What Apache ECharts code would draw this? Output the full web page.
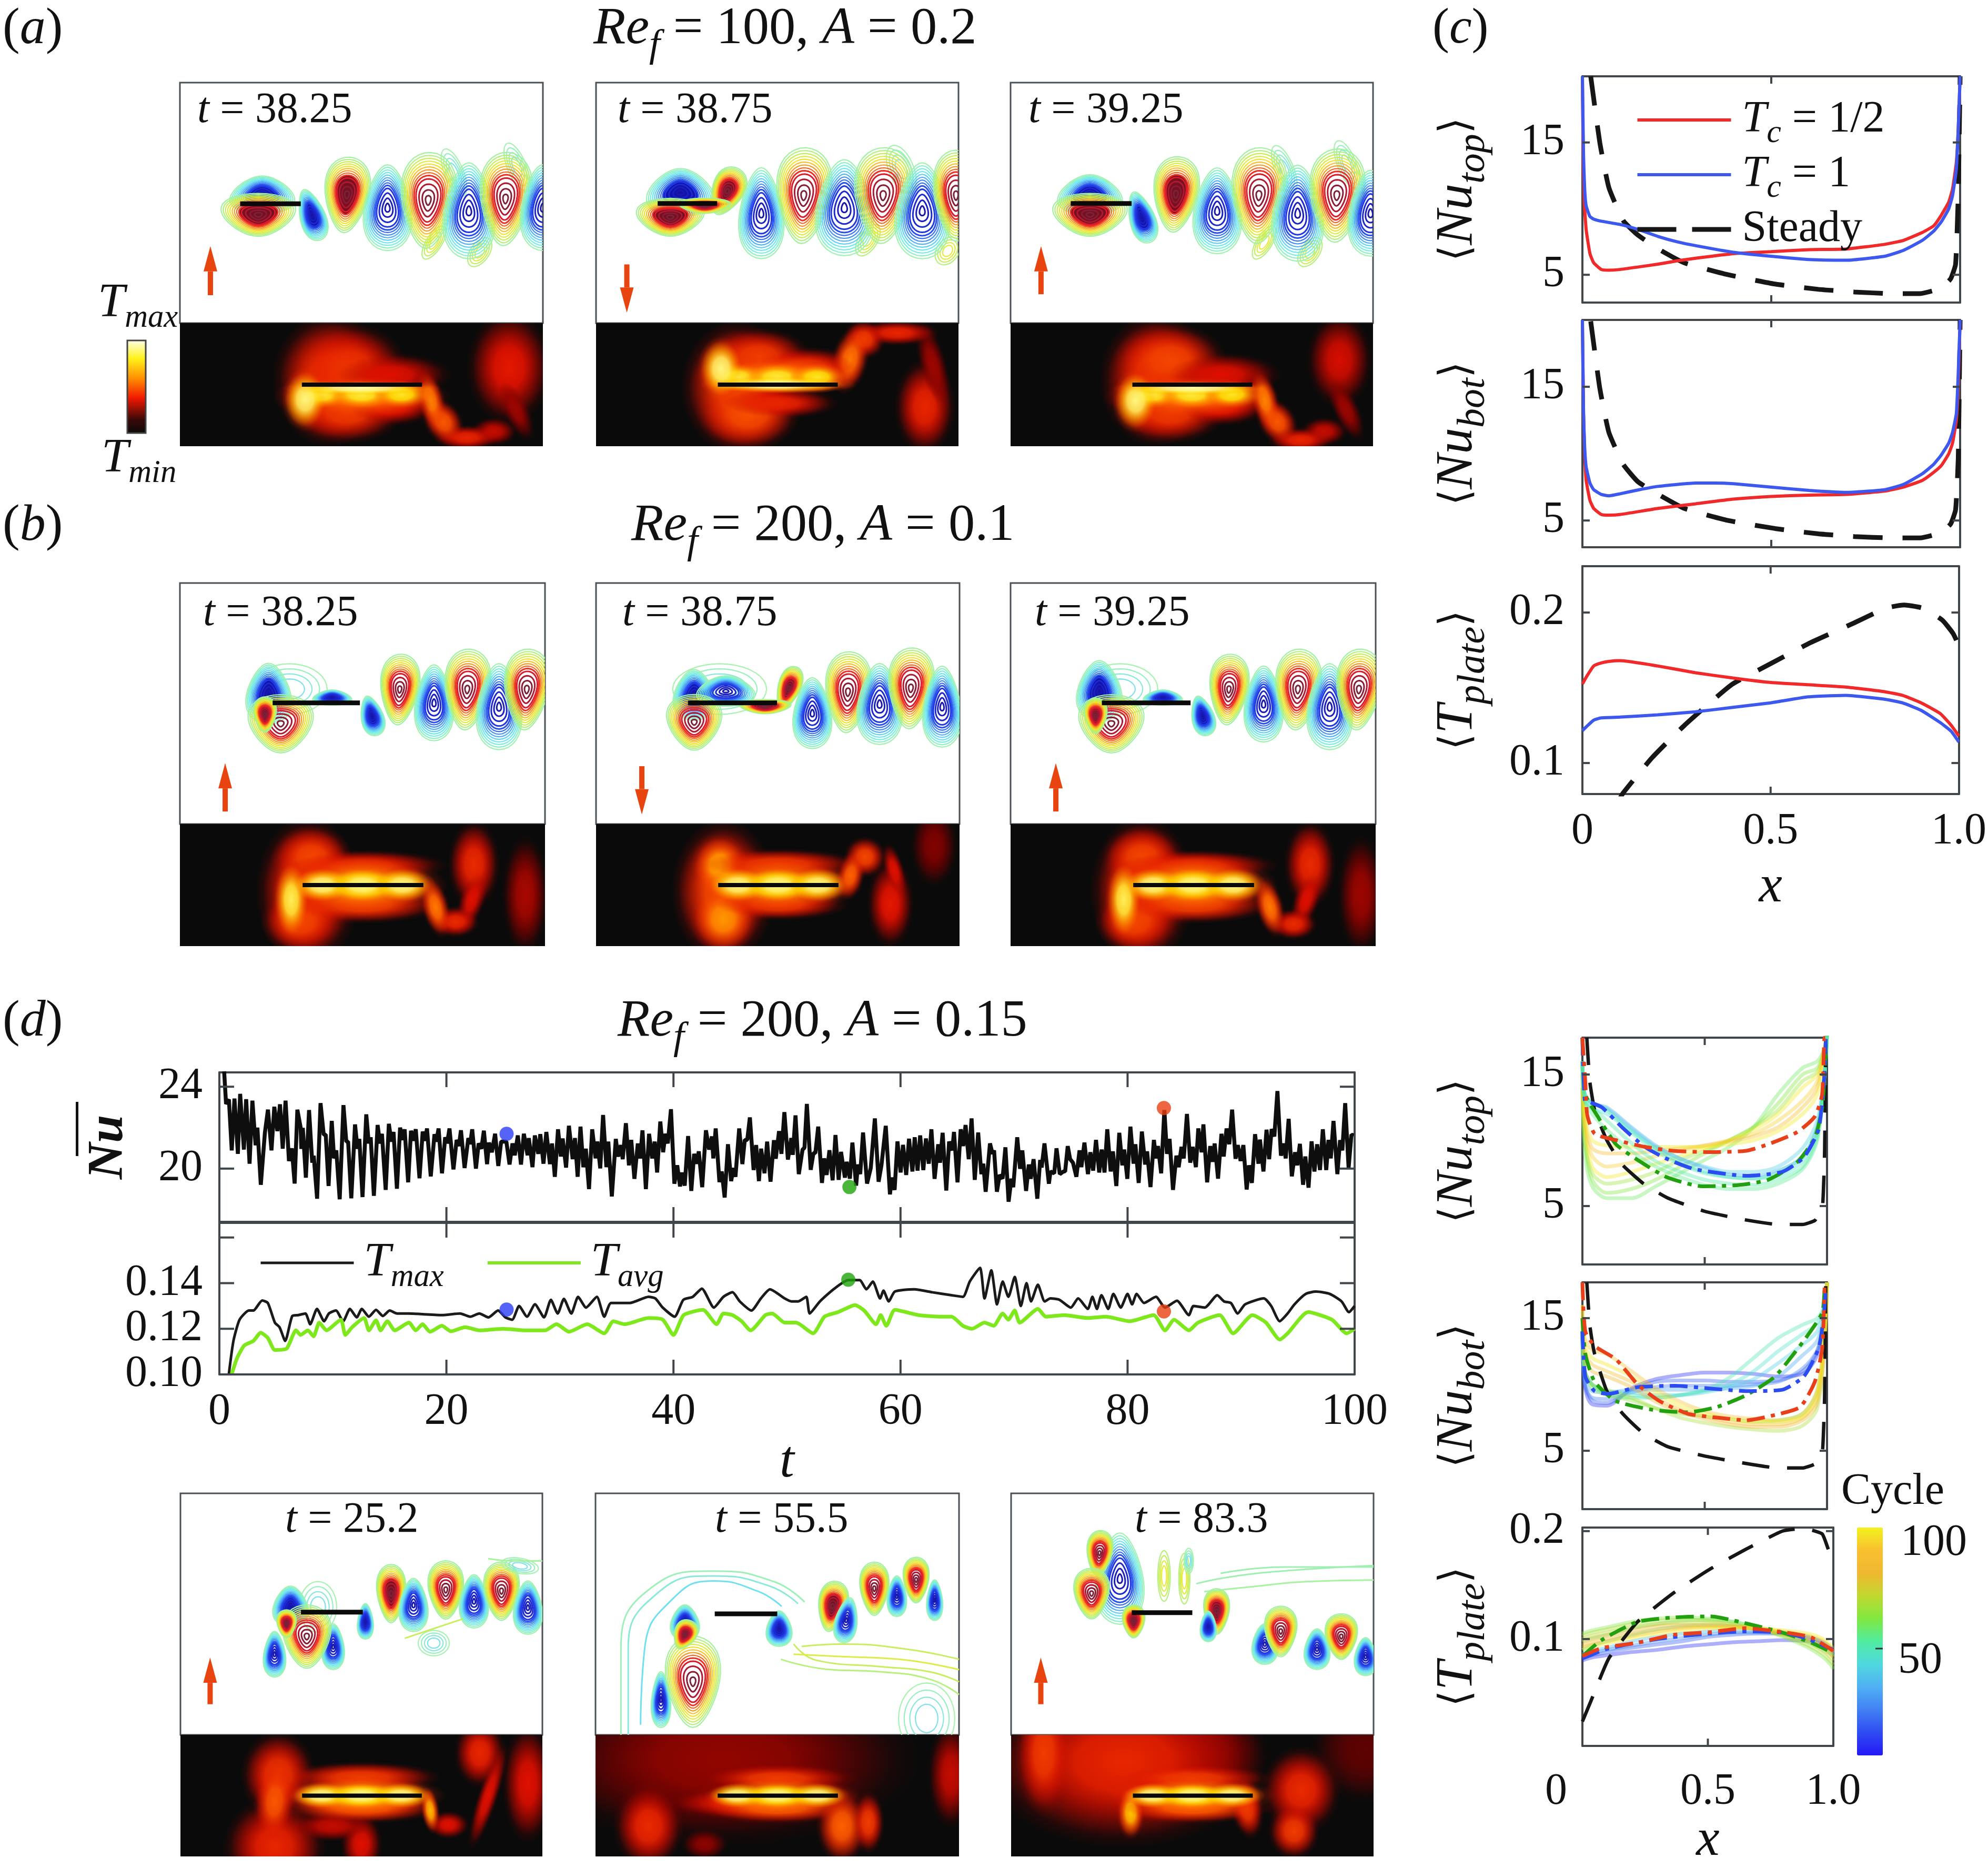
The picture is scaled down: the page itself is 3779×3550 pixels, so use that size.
<!DOCTYPE html>
<html><head><meta charset="utf-8"><style>html,body{margin:0;padding:0;background:#fff}#c{width:3779px;height:3550px}</style>
<script src="https://cdn.jsdelivr.net/npm/echarts@6/dist/echarts.min.js"></script></head><body><div id="c"></div>
<script>
/* ---------- time series of panel (d): [t, value] ---------- */
const nuPoints=[[.42,24.75],[.59,23.16],[.84,23.38],[1.09,20.89],[1.33,23.42],[1.63,20.72],[1.83,23.65],[2.16,20.93],[2.36,23.39],[2.66,20.24],[2.91,23.32],[3.19,21.14],[3.35,22],[3.65,19.21],[4.01,21.75],[4.28,22.88],[4.59,20.89],[4.84,23.02],[5.11,21.83],[5.34,23.14],[5.58,20.97],[5.83,23.32],[6.13,20.37],[6.38,20.99],[6.63,19.27],[6.87,22.88],[7.16,22],[7.22,20.96],[7.35,21.99],[7.62,19.56],[7.9,22.86],[8.18,20.29],[8.31,20.63],[8.61,18.53],[8.91,23.2],[9.19,21.66],[9.37,21.66],[9.62,19.15],[9.9,22.33],[10.1,20.5],[10.3,20.89],[10.6,18.5],[10.93,23.1],[11.18,21.32],[11.34,21.32],[11.62,18.55],[11.95,22.16],[12.17,20.97],[12.33,21.45],[12.61,18.61],[12.94,22.65],[13.16,21.23],[13.33,21.53],[13.61,18.67],[13.94,22.13],[14.15,21.23],[14.32,21.7],[14.65,18.96],[14.93,22.19],[15.15,21.32],[15.34,21.79],[15.64,19.02],[15.92,22],[16.14,21.4],[16.32,21.92],[16.63,19.33],[16.88,21.85],[17.08,21.36],[17.3,21.92],[17.63,19.53],[17.91,21.81],[18.12,21.36],[18.29,21.96],[18.62,19.62],[18.95,21.68],[19.11,21.32],[19.31,21.96],[19.61,19.77],[19.89,21.53],[20.06,21.23],[20.27,21.96],[20.62,19.96],[20.9,21.4],[21.1,21.1],[21.28,21.87],[21.6,20.03],[21.93,21.49],[22.09,21.19],[22.27,21.92],[22.6,20],[22.84,21.23],[23.08,20.97],[23.3,21.85],[23.58,20.22],[23.75,21.27],[24,20.8],[24.29,21.7],[24.57,20.13],[24.82,21.32],[25.28,21.32],[25.56,20.2],[25.82,21.23],[26.02,20.65],[26.29,21.62],[26.57,20.2],[26.82,21.7],[27.15,20.65],[27.26,21.49],[27.58,20.07],[27.79,21.62],[28.09,20.72],[28.27,21.68],[28.55,20.24],[28.8,21.79],[29.12,20.22],[29.3,21.23],[29.55,19.6],[29.83,21.92],[30.08,20.59],[30.24,21.47],[30.54,20.05],[30.79,22.09],[31.12,20.46],[31.32,21.49],[31.56,19.6],[31.81,22.05],[32.06,20.07],[32.28,20.97],[32.56,19],[32.84,21.92],[33.14,20.5],[33.3,21.32],[33.55,20.01],[33.8,22.62],[34.09,20.07],[34.26,21.32],[34.57,18.64],[34.92,21.45],[35.12,20.59],[35.37,21.15],[35.53,20.46],[35.81,22.22],[36.08,20.16],[36.28,21.4],[36.56,19.5],[36.86,21.23],[37.07,20.5],[37.27,21.87],[37.57,19],[37.85,21.7],[38.13,20.5],[38.35,21.32],[38.56,19.81],[38.84,22.3],[39.09,20.8],[39.29,21.7],[39.5,21.23],[39.78,22.9],[40.08,19.26],[40.33,20.16],[40.58,19.13],[40.74,19.81],[40.99,19.17],[41.29,21.59],[41.57,18.91],[41.82,20.72],[42.03,20.24],[42.23,20.84],[42.53,19.09],[42.86,21.87],[43.14,20.93],[43.39,21.57],[43.51,20.5],[43.72,21.96],[44.05,19.34],[44.25,19.86],[44.51,18.59],[44.8,21.19],[45.08,19.39],[45.29,20.03],[45.46,19.6],[45.79,21.96],[46.07,20.22],[46.28,21.4],[46.5,21.4],[46.73,22.5],[47.06,19.93],[47.28,21.15],[47.53,19.39],[47.72,20.97],[48.02,19.77],[48.25,21.32],[48.55,19.36],[48.85,21.39],[49.01,20.48],[49.3,21.83],[49.51,20.72],[49.77,22.76],[50.08,20.44],[50.38,21.49],[50.51,20.67],[50.75,22.6],[51.04,19.73],[51.37,20.93],[51.54,21.02],[51.75,23.16],[52.09,19.94],[52.33,20.76],[52.5,20.76],[52.75,22.05],[53.08,19.3],[53.28,20.5],[53.49,19.69],[53.74,20.9],[54.02,19.43],[54.27,21.64],[54.55,19.45],[54.76,20.82],[55.1,19.56],[55.26,20.33],[55.54,19.51],[55.76,21.27],[56.09,19.17],[56.25,20.2],[56.45,19.73],[56.7,21.76],[57.05,19.27],[57.38,20.03],[57.74,22.45],[58.07,19.36],[58.32,20.16],[58.7,22.09],[59.07,18.74],[59.23,19.56],[59.48,18.96],[59.73,21.33],[60.01,19.81],[60.22,21.16],[60.5,19.69],[60.75,21.46],[61.05,19.86],[61.25,21.53],[61.5,19.9],[61.73,21.62],[62.01,19.93],[62.24,21.47],[62.49,20.24],[62.72,21.92],[63,19.5],[63.32,21.19],[63.48,20.29],[63.71,21.75],[64.03,18.93],[64.28,21.32],[64.56,20.89],[64.71,21.79],[65.02,19.33],[65.3,21.92],[65.52,21.1],[65.73,22.13],[66.01,20.46],[66.26,22.45],[66.54,19.45],[66.84,21.76],[67.12,19.73],[67.29,20.24],[67.5,18.87],[67.88,21.23],[68.11,20.72],[68.24,20.89],[68.49,18.87],[68.74,19.69],[68.99,19.51],[69.24,21.04],[69.52,18.38],[69.77,19.51],[69.93,19.09],[70.28,21.53],[70.53,19.99],[70.73,20.89],[71.06,18.91],[71.3,20.2],[71.47,19.5],[71.72,20.46],[72.05,18.53],[72.3,20.42],[72.43,20.05],[72.68,21.23],[73.07,19.26],[73.21,19.86],[73.54,19.77],[73.74,20.99],[74.03,19.73],[74.36,19.86],[74.5,19.86],[74.73,21.1],[74.94,20.46],[75.19,20.29],[75.49,19.6],[75.77,20.89],[75.93,20.07],[76.2,21.27],[76.51,19.73],[76.72,20.8],[76.97,19.9],[77.22,21.4],[77.5,19.81],[77.72,20.93],[77.97,19.81],[78.21,21.92],[78.51,19.86],[78.71,20.84],[79.01,19.15],[79.27,21.75],[79.54,20.16],[79.7,20.93],[79.98,19.5],[80.25,22.05],[80.53,20.24],[80.69,21.19],[80.98,19.3],[81.26,21.81],[81.55,20.2],[81.72,20.84],[82.02,19.1],[82.32,21.4],[82.51,20.5],[82.68,21.1],[82.96,19.77],[83.24,22.86],[83.47,20.72],[83.7,21.45],[84,18.96],[84.3,20.63],[84.5,20.07],[84.75,21.06],[84.95,20.5],[85.23,22.67],[85.52,20.29],[85.74,21.06],[86.02,20.07],[86.23,21.96],[86.52,20.8],[86.68,22.16],[87.01,19.33],[87.28,21.1],[87.51,20.33],[87.67,21.23],[87.97,19.51],[88.27,21.7],[88.47,20.59],[88.72,21.96],[88.96,21.19],[89.21,22.88],[89.51,20.48],[89.71,21.15],[89.96,20.37],[90.2,21.15],[90.49,18.98],[90.7,20.16],[90.95,19.3],[91.23,21.68],[91.53,20.24],[91.66,21.42],[91.97,19.86],[92.24,21.9],[92.47,20.46],[92.69,21.93],[92.93,21.57],[93.2,23.79],[93.51,20.63],[93.73,21.23],[93.93,20.5],[94.19,22.43],[94.47,19.62],[94.75,20.8],[94.95,20.16],[95.18,21.21],[95.46,19.21],[95.66,20.59],[95.94,19.07],[96.21,21.33],[96.46,19.86],[96.7,21.19],[96.95,19.93],[97.2,21.92],[97.5,19.93],[97.7,21.4],[97.9,20.5],[98.14,22.33],[98.48,19.73],[98.72,21.39],[98.92,20.89],[99.17,23.2],[99.47,20.03],[99.72,21.66],[99.92,21.62]];
const tMaxPoints=[[.83,.1],[1.24,.1147],[1.78,.124],[2.6,.128],[3,.128],[3.77,.1324],[4.27,.1313],[4.89,.1227],[5.3,.1207],[5.8,.1147],[6.42,.1256],[6.96,.126],[7.58,.1267],[8,.122],[8.6,.1287],[9.23,.1233],[9.65,.1267],[10.27,.128],[10.9,.1233],[11.5,.1287],[12.1,.125],[12.55,.1287],[13.17,.1253],[13.8,.1283],[14.4,.1256],[15,.128],[15.65,.1267],[16.7,.1267],[17.9,.1264],[19.6,.126],[21.2,.1267],[22.1,.1253],[22.9,.1267],[23.7,.125],[24.55,.128],[25.2,.125],[25.8,.124],[26.4,.13],[27.1,.1253],[27.8,.1307],[28.6,.125],[29.2,.1327],[29.8,.1267],[30.35,.1331],[31,.1267],[31.6,.134],[32.3,.1293],[33.25,.134],[33.9,.1253],[34.5,.1313],[36.15,.1313],[37.8,.134],[38.4,.1333],[39.05,.1293],[40.1,.1253],[40.87,.1327],[41.7,.134],[42.5,.1376],[43.56,.1293],[44.4,.134],[45.2,.136],[45.84,.132],[46.87,.128],[47.7,.1333],[48.5,.1373],[49.8,.1333],[50.4,.132],[50.99,.132],[51.7,.134],[52,.1267],[52.9,.132],[54.1,.1373],[55.4,.1413],[56.4,.1413],[57,.1373],[57.56,.1407],[58.2,.1333],[58.5,.1367],[58.96,.132],[59.5,.1363],[61.2,.1373],[62.8,.136],[64.5,.1347],[65.5,.134],[66.1,.1407],[67,.1467],[67.4,.1333],[68,.1456],[68.5,.1307],[69,.1407],[69.5,.134],[70.06,.1427],[70.6,.13],[71.1,.14],[71.5,.132],[72.1,.1393],[72.7,.132],[73.2,.1333],[74,.1327],[75,.1293],[75.65,.1333],[76.5,.1287],[76.9,.134],[77.3,.1287],[77.7,.1347],[78.3,.1287],[78.75,.1353],[79.4,.1293],[80,.1353],[80.4,.1307],[80.8,.1353],[81.45,.1313],[82.5,.134],[83.3,.1293],[84.35,.1323],[85.4,.126],[85.8,.13],[86.8,.1293],[87.9,.1347],[88.5,.132],[89.1,.1313],[89.7,.1267],[90.35,.1307],[92,.1333],[92.65,.13],[93.4,.1233],[94.1,.1267],[94.7,.1307],[95.7,.1353],[96.6,.1363],[97.8,.1353],[98.85,.132],[99.5,.1273],[100,.13]];
const tAvgPoints=[[1.08,.1],[1.57,.1073],[2.2,.1127],[3,.1147],[3.64,.1183],[4.27,.116],[4.89,.1107],[5.92,.1113],[6.75,.1193],[7.16,.1173],[7.8,.1193],[8.3,.1167],[8.8,.1227],[9.44,.1193],[10.7,.124],[11.1,.1173],[11.7,.1207],[12.75,.1247],[13.17,.1193],[13.8,.1237],[14.2,.1193],[14.8,.1233],[15.45,.1193],[16.7,.1227],[17.3,.1193],[17.9,.122],[18.55,.1187],[19.6,.1213],[20.4,.1189],[21.65,.1207],[22.9,.1193],[25,.12],[27,.1193],[28.7,.1193],[29.7,.122],[30.8,.1187],[32.4,.122],[33.9,.118],[34.7,.1233],[35.7,.122],[37.8,.1247],[39.05,.124],[40,.1173],[40.9,.126],[42.6,.1283],[43.8,.122],[44.4,.1267],[45.2,.126],[46,.1233],[46.8,.1193],[48.1,.126],[48.7,.1267],[49.8,.1227],[50.8,.1227],[52.3,.118],[53.3,.1253],[54.5,.1273],[56,.1304],[56.8,.128],[57.85,.122],[58.25,.126],[58.75,.1213],[59.5,.1283],[61.6,.126],[63.6,.1253],[64.5,.1253],[65.5,.1213],[66.3,.12],[67.4,.1227],[68.2,.1213],[69,.1267],[69.5,.124],[70.06,.128],[70.5,.1227],[72.1,.1287],[72.8,.1253],[74.4,.126],[76.5,.1247],[78.1,.1253],[80.2,.1233],[82.3,.126],[83.3,.1193],[84.1,.124],[85.4,.1193],[86.2,.1227],[88.1,.126],[89.3,.118],[91,.126],[92.2,.1227],[93.4,.1153],[94.1,.118],[95.9,.1273],[98,.124],[99.3,.118],[100,.12]];
const nuMarkers=[[25.3,21.7,'#2a3cf5'],[55.5,19.1,'#1fa30a'],[83.2,22.96,'#e8400f']];
const tempMarkers=[[25.3,.1284,'#2a3cf5'],[55.4,.1415,'#1fa30a'],[83.2,.1276,'#e8400f']];

/* ---------- panel (c) ---------- */
const cTopRedX=[0,.002,.005,.01,.02,.03,.05,.07,.1,.15,.2,.25,.3,.4,.5,.6,.7,.8,.85,.9,.93,.95,.97,.98,.99,.995,1];
const cTopRedY=[20,14,10.5,8.4,6.6,5.9,5.4,5.35,5.4,5.6,5.8,6.05,6.25,6.6,6.75,6.9,6.95,7.3,7.6,8.2,8.7,9.5,10.5,11.5,13.5,16,20];
const cTopBlueX=[0,.003,.006,.01,.02,.03,.05,.1,.15,.2,.25,.3,.4,.5,.6,.7,.8,.85,.9,.93,.95,.97,.98,.99,.995,1];
const cTopBlueY=[20,14,11.5,10.2,9.4,9.2,9.05,8.8,8.4,7.9,7.5,7.2,6.7,6.4,6.15,6.1,6.4,6.85,7.6,8.3,9,10,11,13,16,20];
const cTopSteadyX=[.022,.046,.07,.108,.147,.204,.27,.386,.51,.625,.72,.817,.894,.95,.975,.988,.995,1];
const cTopSteadyY=[20,15,11.6,9.1,8,6.9,5.9,5,4.3,3.9,3.7,3.58,3.58,4,4.7,5.8,11,20];
const cBotRedX=[0,.003,.006,.01,.02,.03,.05,.07,.1,.2,.3,.4,.5,.6,.7,.8,.85,.9,.93,.95,.97,.98,.99,.995,1];
const cBotRedY=[20,13,10,8,6.5,5.9,5.45,5.4,5.45,5.9,6.25,6.6,6.8,6.9,6.95,7.2,7.5,8,8.6,9.1,10,10.8,12.5,15,20];
const cBotBlueX=[0,.003,.006,.01,.02,.03,.05,.07,.1,.15,.2,.3,.35,.4,.5,.6,.7,.8,.85,.9,.93,.95,.97,.98,.99,.995,1];
const cBotBlueY=[20,13,10.5,9,7.8,7.3,6.95,6.85,7,7.3,7.55,7.8,7.8,7.75,7.5,7.25,7.1,7.3,7.7,8.5,9.2,9.9,10.8,11.6,13,16,20];
const cBotSteadyX=[.022,.046,.07,.108,.147,.204,.27,.386,.51,.625,.72,.817,.894,.95,.975,.988,.995,1];
const cBotSteadyY=[19.9,14.9,11.6,9.2,7.9,6.9,5.9,5,4.4,4,3.8,3.7,3.7,4.1,4.75,5.8,9.6,20];
const cPlateRedX=[0,.01,.03,.05,.07,.1,.2,.3,.4,.5,.6,.7,.8,.85,.9,.95,.98,1];
const cPlateRedY=[.1525,.157,.1645,.1665,.1675,.168,.1645,.16,.1565,.1535,.152,.1505,.1475,.145,.14,.133,.125,.118];
const cPlateBlueX=[0,.01,.03,.05,.1,.2,.3,.4,.5,.6,.7,.8,.85,.9,.95,.98,1];
const cPlateBlueY=[.1215,.124,.1285,.13,.1305,.132,.134,.137,.14,.144,.145,.1425,.14,.135,.127,.121,.114];
const cPlateSteadyX=[.09,.108,.185,.271,.396,.5,.606,.721,.807,.855,.903,.956,.985,1];
const cPlateSteadyY=[.072,.08,.1035,.125,.152,.166,.18,.193,.203,.205,.203,.195,.186,.178];

/* ---------- panel (d), right column ---------- */
const cycleXs=[0,.01,.04,.1,.2,.3,.4,.5,.6,.7,.8,.9,.96,.99,1];
const topCycles=[[60,14,9,6.5,5.6,5.6,6.5,7.5,8.5,9.5,11,13.5,15.5,16,17,18],[64,14,10,7,6,6.3,7,8,9,10,11,12.8,15,15.5,17,18],[68,14,10,7.5,6.7,7,7.6,8.5,9.2,10,11,12.3,14.5,15.2,17,18],[104,15,11,8,7.2,7.6,8.2,8.8,9.4,10,10.8,12,14,15,17,18],[98,15,11,8.8,8,8.3,8.8,9.2,9.6,10,10.5,11.5,13,14.5,17,18],[90,15,11.5,9.4,9,9,9.2,9.4,9.6,9.9,10.3,11,12.5,14,17,18],[104,16,12,10,9.6,9.5,9.5,9.5,9.5,9.7,10,10.7,12,13.5,17,18],[30,16,13.5,12.8,12.5,11,9.6,8.6,7.9,7.4,7.3,7.7,8.7,11,15,18],[40,16,13.5,12.8,12.4,10.9,9.5,8.6,8,7.6,7.6,8,9.4,11.5,15,18],[45,16,13,12.4,12,10.7,9.4,8.3,7.6,7.2,7.1,7.3,8.4,10.5,15,18],[50,16,13.5,12.8,12.3,10.6,9.2,8.2,7.5,7.2,7.1,7.6,8.8,11,15,18],[52,16,13,12.5,11.5,9.8,8.4,7.6,7,6.7,6.6,7,8,10.2,15,18],[55,16,13,12,10.8,9.2,8,7.2,6.6,6.3,6.3,6.7,7.8,10,15,18]];
const botCycles=[[4,14,9.8,8.5,8.4,9.7,10.4,10.7,10.9,10.9,10.8,10.6,10.8,12.2,15,17.7],[14,14,10,8.8,8.6,9.6,10.2,10.3,10.3,10.2,10.2,10.3,11,12.5,15,17.7],[20,14,10,9,8.9,9.4,9.8,9.9,9.9,9.9,10,10.2,11.2,12.6,15,17.7],[30,14,10.5,9.5,9.4,9.6,9.6,9.6,9.6,9.7,9.9,10.6,12.2,13.3,15.5,17.7],[40,14,11,10,9.5,9.4,9.2,9.2,9.4,9.8,10.4,11.6,13,14,16,17.7],[46,14,11,10,9.4,9.2,9,9.2,9.5,10,11,12.5,13.8,14.6,16,17.7],[50,14,11,10,9.3,9,9,9.2,9.6,10.5,12,13.5,14.5,15,16,17.7],[64,14,11,9.8,9.2,8.8,8.2,7.8,7.6,7.4,7.2,7.3,7.8,9.5,14,17.7],[70,14,11,10,9.6,9,8.2,7.5,7.1,6.8,6.6,6.5,6.9,8.2,13,17.7],[85,15,12,11,10.6,9.8,8.7,7.9,7.4,7,6.8,6.8,7.3,8.6,13,17.7],[90,15,12.5,11.5,11,10.2,9,8.1,7.6,7.2,7,7,7.5,9,13.5,17.7],[95,16,13.5,12.6,12.3,11,9.7,8.7,8,7.6,7.4,7.3,7.8,9.6,14,17.7],[104,16,13,12,11.5,10.6,9.4,8.4,7.8,7.4,7.2,7.2,7.6,9.2,14,17.7]];
const plateCycles=[[4,.08,.081,.083,.085,.088,.09,.093,.095,.097,.098,.099,.098,.095,.09,.086],[14,.082,.083,.085,.088,.092,.095,.098,.102,.104,.105,.105,.102,.097,.092,.089],[24,.084,.085,.087,.09,.094,.098,.101,.104,.106,.106,.105,.101,.096,.091,.088],[34,.086,.087,.089,.092,.098,.102,.105,.107,.108,.107,.105,.1,.094,.089,.086],[50,.09,.091,.094,.098,.104,.109,.112,.113,.112,.109,.105,.098,.092,.087,.085],[58,.098,.099,.101,.104,.11,.114,.117,.118,.116,.111,.105,.097,.09,.086,.084],[64,.105,.106,.108,.111,.116,.119,.12,.119,.116,.11,.102,.092,.083,.076,.072],[70,.103,.104,.106,.109,.114,.117,.118,.117,.114,.109,.103,.094,.086,.079,.076],[76,.1,.101,.103,.106,.111,.114,.115,.115,.113,.109,.104,.097,.089,.083,.08],[85,.097,.098,.1,.103,.108,.112,.113,.113,.112,.109,.105,.099,.092,.086,.083],[90,.094,.095,.097,.1,.105,.109,.111,.112,.111,.109,.106,.101,.095,.089,.086],[96,.092,.093,.095,.098,.103,.107,.11,.111,.111,.11,.107,.103,.098,.092,.088],[104,.09,.091,.093,.096,.101,.105,.108,.11,.11,.11,.108,.105,.1,.094,.09]];
const dTopRedX=[0,.012,.02,.05,.14,.255,.37,.52,.67,.76,.876,.95,.98,.99,1];
const dTopRedY=[17.8,14.4,11.9,10.5,10,9.5,9.2,9.1,9.2,9.7,10.6,11.8,13.5,17.8,17.8];
const dTopBlueX=[0,.01,.03,.08,.167,.255,.344,.46,.67,.817,.905,.965,.987,.995];
const dTopBlueY=[17.8,13,12.9,12.5,10.9,9.5,8.6,7.8,7.3,7.6,8.7,10.8,14.4,17.7];
const dTopGreenX=[0,.012,.063,.137,.226,.344,.49,.64,.76,.876,.95,.982,.995];
const dTopGreenY=[17.8,13.5,11.8,9.7,8.5,7.2,6.5,6.6,7,8.3,10.2,12.7,17.3];
const dBotRedX=[0,.012,.05,.137,.226,.315,.43,.55,.67,.787,.89,.95,.98,.99];
const dBotRedY=[17.7,14,12.9,11.9,10,8.75,7.8,7.5,7.3,7.7,8.3,10.2,12.7,17.3];
const dBotBlueX=[0,.012,.05,.108,.226,.374,.52,.67,.817,.905,.965,.987,.995];
const dBotBlueY=[14,10.6,9.5,9.3,9.8,9.9,9.7,9.5,9.6,10.6,12.7,15.2,17.3];
const dBotGreenX=[0,.012,.05,.137,.284,.43,.55,.67,.787,.905,.98,.99];
const dBotGreenY=[15,12.3,10.2,8.75,8.1,7.9,8.3,9.2,10.6,13.3,15.4,17.3];
const dPlateRedX=[0,.076,.22,.365,.51,.65,.797,.912,1];
const dPlateRedY=[.0842,.0916,.0966,.104,.1064,.11,.1064,.1015,.089];
const dPlateBlueX=[0,.1,.3,.5,.65,.8,.9,1];
const dPlateBlueY=[.082,.091,.1,.105,.107,.106,.1,.09];
const dPlateGreenX=[0,.076,.22,.365,.51,.625,.797,.912,1];
const dPlateGreenY=[.084,.099,.116,.12,.121,.116,.106,.0966,.087];
const dPlateSteadyX=[0,.033,.105,.22,.365,.51,.65,.797,.883,.955,.977,1];
const dPlateSteadyY=[.0236,.042,.082,.116,.143,.165,.183,.2,.2025,.1975,.185,.17];
const dSteadyX=[.018,.03,.05,.1,.16,.25,.35,.5,.65,.8,.9,.95,.97,.982,.99,.995];
const dTopSteadyY=[17.8,14.5,12.3,10,8.2,6.7,5.6,4.6,4,3.6,3.6,3.9,4.5,5,9,17.8];
const dBotSteadyY=[17.7,14.5,12.3,9.5,7.9,6.3,5.3,4.6,4.1,3.7,3.7,4,4.6,5.1,9,17.7];
const cycleTicks=[50,100];
const cycleColors=['#2418f5','#2f4cf2','#4080f4','#50b0f4','#50d8e0','#50eca0','#80e840','#c0d830','#f0b830','#f8c030','#f2f21e'];

/* ---------- tick values ---------- */
const nuTicks=[20,24], tempTicks=[.1,.12,.14,.16], timeTicks=[0,20,40,60,80,100];
const nuSideTicks=[5,15], plateTicksC=[.1,.2], plateTicksD=[0,.1,.2], xTicks=[0,.5,1];

/* ---------- flow snapshots: vortices [x, y, rx, ry, tilt, kind, dense]  kind 1 red, -1 blue, 0 mint, 2 lime ---------- */
const vortA1=[[.755,.374,.03,.1,-22,0,0],[.70,.665,.025,.075,32,2,0],[.928,.35,.03,.1,-22,0,0],[.826,.705,.03,.065,35,2,0],[.227,.467,.10,.075,0,-1,1],[.216,.55,.115,.085,0,1,1],[.364,.55,.04,.105,-18,-1,1],[.46,.467,.07,.15,5,1,1],[.572,.52,.075,.17,0,-1,0],[.684,.49,.085,.19,3,1,0],[.796,.533,.08,.19,0,-1,0],[.897,.484,.08,.185,3,1,0],[1.0,.52,.07,.17,0,-1,0]];
const vortA2=[[.842,.36,.04,.1,-22,0,0],[.75,.655,.03,.07,32,2,0],[.97,.7,.035,.06,35,2,0],[.233,.457,.105,.095,0,-1,1],[.205,.56,.105,.075,0,1,1],[.362,.452,.05,.1,25,1,1],[.30,.512,.08,.03,0,1,1],[.456,.543,.07,.18,0,-1,0],[.573,.47,.085,.19,3,1,0],[.685,.52,.09,.19,0,-1,0],[.792,.47,.09,.19,3,1,0],[.90,.533,.085,.19,0,-1,0],[.993,.47,.07,.18,0,1,0]];
const vortA3=[[.755,.36,.03,.1,-22,0,0],[.70,.665,.025,.075,32,2,0],[.928,.34,.03,.1,-22,0,0],[.826,.705,.03,.065,35,2,0],[.219,.467,.10,.08,0,-1,1],[.219,.55,.115,.085,0,1,1],[.362,.56,.04,.105,-18,-1,1],[.456,.465,.07,.15,5,1,1],[.57,.533,.075,.17,0,-1,0],[.685,.47,.085,.19,3,1,0],[.792,.543,.08,.19,0,-1,0],[.90,.47,.085,.185,3,1,0],[.993,.543,.07,.17,0,-1,0]];
const vortB1=[[.30,.44,.12,.1,0,0,0],[.243,.459,.07,.12,0,-1,1],[.276,.584,.1,.115,0,1,0],[.233,.546,.035,.07,0,1,1],[.417,.475,.06,.03,0,-1,1],[.526,.551,.035,.08,-15,-1,1],[.602,.442,.06,.14,4,1,0],[.696,.497,.06,.15,0,-1,0],[.787,.442,.07,.16,4,1,0],[.874,.513,.07,.17,0,-1,0],[.95,.442,.07,.16,4,1,0]];
const vortB2=[[.34,.44,.15,.1,0,0,0],[.27,.464,.065,.1,0,-1,1],[.357,.448,.09,.06,0,-1,0],[.27,.578,.085,.11,0,1,0],[.53,.437,.035,.09,20,1,1],[.465,.513,.08,.028,0,1,1],[.595,.54,.06,.14,0,-1,0],[.693,.453,.07,.16,3,1,0],[.78,.502,.07,.16,0,-1,0],[.866,.437,.07,.16,3,1,0],[.952,.513,.06,.16,0,-1,0]];
const vortB3=[[.30,.44,.12,.1,0,0,0],[.243,.448,.07,.12,0,-1,1],[.276,.584,.1,.115,0,1,0],[.233,.551,.035,.07,0,1,1],[.417,.475,.06,.03,0,-1,1],[.526,.551,.035,.08,-15,-1,1],[.598,.442,.06,.14,4,1,0],[.693,.502,.06,.15,0,-1,0],[.787,.442,.07,.16,4,1,0],[.874,.513,.07,.17,0,-1,0],[.954,.442,.07,.16,4,1,0]];
const vortD1=[[.38,.47,.06,.1,0,0,0],[.26,.666,.035,.09,0,-1,0],[.422,.635,.035,.09,0,-1,0],[.304,.468,.055,.08,0,-1,1],[.349,.593,.075,.125,0,1,0],[.293,.54,.03,.055,0,1,1],[.511,.53,.025,.07,0,-1,1],[.582,.415,.045,.115,0,1,1],[.644,.462,.045,.105,0,-1,0],[.733,.4,.055,.115,0,1,0],[.811,.447,.045,.105,0,-1,0],[.887,.405,.055,.115,0,1,0],[.96,.473,.045,.105,0,-1,0],[.938,.3,.06,.03,10,0,0],[.7,.62,.05,.05,0,0,0]];
const vortD2=[[.911,.932,.09,.14,0,0,0],[.18,.854,.03,.11,0,-1,0],[.268,.78,.085,.18,0,1,0],[.246,.535,.045,.07,0,-1,1],[.246,.585,.035,.06,25,1,1],[.505,.56,.04,.07,0,-1,1],[.652,.468,.045,.1,10,1,1],[.69,.525,.035,.09,10,-1,0],[.767,.395,.045,.105,0,1,0],[.829,.426,.03,.08,0,-1,0],[.882,.359,.04,.09,0,1,0],[.933,.442,.025,.08,0,-1,0]];
const vortD3=[[.422,.342,.02,.1,0,2,0],[.478,.353,.018,.1,0,2,0],[.49,.28,.015,.05,0,0,0],[.3,.353,.075,.18,0,-1,0],[.244,.248,.04,.09,5,1,0],[.222,.415,.055,.1,0,1,0],[.338,.53,.035,.065,0,1,1],[.567,.489,.04,.09,0,1,1],[.544,.551,.025,.06,0,-1,1],[.7,.624,.04,.08,0,-1,0],[.744,.572,.05,.1,0,1,0],[.844,.645,.04,.08,0,-1,0],[.911,.593,.05,.09,0,1,0],[.978,.676,.035,.075,0,-1,0]];
const streaksD2=[['#8ce8d8',[[.09,1],[.09,.645],[.169,.415],[.324,.342],[.479,.384],[.557,.457]]],['#9ff0b8',[[.07,1],[.07,.645],[.15,.395],[.324,.322],[.49,.365],[.575,.45]]],['#70e0f0',[[.124,.958],[.135,.645],[.213,.436],[.324,.363],[.446,.405],[.512,.468]]],['#c8ee60',[[.545,.624],[.61,.692],[.787,.718],[.92,.739],[1,.78]]],['#c8ee60',[[.567,.634],[.678,.624],[.855,.645],[1,.687]]],['#dcec48',[[.545,.666],[.678,.676],[.834,.687],[1,.73]]],['#b8f080',[[.51,.687],[.634,.728],[.787,.739],[.92,.77],[1,.833]]]];
const streaksD3=[['#9ff0b0',[[.511,.374],[.622,.342],[.8,.316],[1,.299]]],['#a8f2a0',[[.533,.407],[.667,.386],[.822,.365],[1,.359]]],['#9ff0b0',[[.578,.331],[.756,.305],[1,.305]]]];
const streaksD1=[['#a8f2a0',[[.85,.27],[.93,.28],[1,.28]]],['#c8ee60',[[.62,.6],[.7,.56],[.78,.52]]]];

/* ---------- flow snapshots: temperature blobs [x, y, rx, ry, tilt, heat] ---------- */
const heatA1=[[.907,.36,.09,.36,0,.52],[.925,.7,.028,.22,-25,.38],[.865,.88,.05,.09,0,.45],[.79,.93,.07,.08,0,.55],[.725,.8,.04,.16,-35,.66],[.69,.62,.03,.2,-15,.74],[.41,.46,.12,.42,0,.6],[.47,.36,.12,.28,0,.58],[.58,.42,.13,.14,0,.5],[.46,.72,.12,.2,0,.6],[.58,.68,.1,.12,0,.52],[.5,.6,.19,.15,0,.72],[.39,.58,.07,.1,0,.9],[.5,.58,.08,.1,0,.9],[.61,.58,.07,.1,0,.88],[.345,.62,.05,.2,0,.95],[.5,.53,.17,.05,0,.98]];
const heatA2=[[.907,.68,.065,.3,0,.55],[.93,.35,.03,.3,-14,.38],[.83,.08,.09,.08,0,.55],[.74,.13,.045,.12,30,.6],[.70,.3,.04,.22,15,.72],[.39,.52,.12,.42,0,.64],[.42,.74,.11,.23,0,.64],[.45,.27,.11,.18,0,.6],[.58,.36,.12,.13,0,.58],[.5,.65,.13,.1,0,.55],[.5,.42,.18,.14,0,.72],[.39,.44,.07,.1,0,.9],[.5,.44,.08,.1,0,.9],[.61,.44,.07,.1,0,.88],[.345,.37,.05,.2,0,.95],[.5,.5,.17,.06,0,.98]];
const heatA3=[[.907,.3,.07,.3,0,.48],[.925,.7,.028,.22,-25,.38],[.865,.88,.05,.09,0,.45],[.8,.95,.07,.08,0,.55],[.735,.8,.04,.16,-35,.66],[.7,.62,.03,.2,-15,.74],[.4,.46,.12,.42,0,.6],[.44,.3,.12,.23,0,.62],[.58,.42,.13,.14,0,.5],[.44,.72,.12,.2,0,.6],[.58,.68,.1,.12,0,.52],[.5,.6,.19,.15,0,.72],[.39,.58,.07,.1,0,.9],[.5,.58,.08,.1,0,.9],[.61,.58,.07,.1,0,.88],[.345,.63,.05,.2,0,.95],[.5,.53,.17,.05,0,.98]];
const heatB1=[[.946,.58,.05,.38,0,.4],[.805,.33,.055,.28,0,.56],[.80,.62,.028,.2,18,.5],[.755,.8,.05,.1,0,.56],[.7,.68,.03,.2,-15,.72],[.35,.55,.11,.48,0,.6],[.33,.8,.085,.2,0,.62],[.36,.27,.085,.2,0,.62],[.5,.34,.18,.1,0,.58],[.5,.66,.17,.12,0,.62],[.5,.5,.18,.18,0,.82],[.305,.62,.04,.26,0,.92],[.39,.5,.07,.12,0,.96],[.5,.5,.08,.12,0,.96],[.61,.5,.07,.12,0,.96]];
const heatB2=[[.93,.18,.05,.26,0,.33],[.81,.65,.05,.28,0,.52],[.74,.27,.045,.13,10,.62],[.70,.42,.03,.16,12,.68],[.82,.38,.022,.18,-15,.5],[.35,.55,.11,.46,0,.64],[.35,.78,.07,.22,0,.76],[.34,.34,.06,.2,0,.78],[.5,.33,.18,.1,0,.6],[.5,.66,.15,.1,0,.6],[.5,.5,.18,.17,0,.82],[.39,.5,.07,.12,0,.96],[.5,.5,.08,.12,0,.96],[.61,.5,.07,.12,0,.96]];
const heatB3=[[.96,.58,.05,.38,0,.38],[.82,.33,.055,.28,0,.56],[.81,.62,.028,.2,18,.5],[.775,.82,.05,.1,0,.56],[.71,.68,.03,.2,-15,.72],[.36,.55,.11,.48,0,.6],[.34,.8,.085,.2,0,.62],[.36,.27,.085,.2,0,.62],[.5,.34,.18,.1,0,.58],[.5,.66,.17,.12,0,.62],[.5,.5,.18,.18,0,.82],[.31,.62,.04,.26,0,.92],[.39,.5,.07,.12,0,.96],[.5,.5,.08,.12,0,.96],[.61,.5,.07,.12,0,.96]];
const heatD1=[[.96,.4,.055,.38,0,.5],[.827,.15,.055,.22,0,.55],[.85,.5,.022,.36,18,.5],[.74,.74,.045,.09,0,.5],[.69,.62,.02,.15,-8,.8],[.26,.92,.11,.32,0,.55],[.5,.9,.045,.2,0,.5],[.42,.75,.09,.1,0,.45],[.27,.33,.08,.28,0,.58],[.26,.55,.045,.25,5,.66],[.5,.35,.17,.1,0,.6],[.5,.6,.17,.1,0,.66],[.5,.5,.18,.13,0,.84],[.39,.5,.07,.09,0,.97],[.5,.5,.08,.09,0,.97],[.61,.5,.07,.09,0,.97]];
const heatD2=[[.35,.2,.42,.55,0,.36],[.978,.33,.05,.34,0,.45],[.146,.75,.075,.28,0,.56],[.678,.75,.055,.24,0,.68],[.75,.72,.035,.2,0,.6],[.4,.56,.16,.1,0,.55],[.3,.9,.05,.1,0,.35],[.5,.36,.17,.1,0,.6],[.5,.6,.17,.1,0,.68],[.5,.5,.18,.12,0,.84],[.39,.5,.07,.09,0,.97],[.5,.5,.08,.09,0,.97],[.61,.5,.07,.09,0,.97]];
const heatD3=[[.98,.12,.12,.34,0,.25],[.53,.15,.14,.35,0,.35],[.31,.22,.3,.55,0,.55],[.09,.15,.06,.4,0,.6],[.8,.455,.085,.28,0,.56],[.78,.79,.055,.18,0,.6],[.33,.64,.03,.17,0,.82],[.65,.6,.035,.2,-10,.6],[.5,.36,.17,.1,0,.6],[.5,.6,.17,.1,0,.68],[.5,.5,.18,.12,0,.84],[.39,.5,.07,.09,0,.97],[.5,.5,.08,.09,0,.97],[.61,.5,.07,.09,0,.97]];
const plateContour=[[.166,.504,.333],[.17,.503,.334],[.166,.503,.334],[.254,.497,.493],[.253,.497,.498],[.25,.497,.493],[.333,.492,.504],[.328,.499,.5],[.333,.494,.5]];
const arrows=[[.084,.884,.68],[.085,.756,.957],[.084,.88,.68],[.124,.948,.747],[.126,.76,.96],[.124,.948,.747],[.082,.873,.68],null,[.082,.873,.68]];

/* ---------- layout ---------- */
const F='Liberation Serif, serif';
const INK='#111', AXIS='#40464a';
const rowGeom=[{top:157,mid:614,bot:848,cols:[[342,1032],[1133,1822],[1921,2610]]},{top:1108,mid:1566,bot:1798,cols:[[342,1036],[1133,1824],[1921,2615]]},{top:2838,mid:3297,bot:3528,cols:[[343,1031],[1132,1823],[1922,2611]]}];
const opt={animation:false,backgroundColor:'#fff',title:[],grid:[],xAxis:[],yAxis:[],series:[],legend:[],graphic:{elements:[]}};

const zip=(xs,ys)=>xs.map((x,i)=>[x,ys[i]]);
const lerpHex=(a,b,t)=>{const p=s=>[1,3,5].map(i=>parseInt(s.substr(i,2),16));const A=p(a),B=p(b);return A.map((v,i)=>Math.round(v+(B[i]-v)*t));};
const ramp=(stops,t)=>{t=Math.max(0,Math.min(1,t));const n=stops.length-1;const i=Math.min(n-1,Math.floor(t*n));const c=lerpHex(stops[i],stops[i+1],t*n-i);return 'rgb('+c.join(',')+')';};
const cycleColor=c=>ramp(cycleColors,c/106);
const hotPts=[[0,'#0a0a0a'],[.3,'#700000'],[.5,'#e01000'],[.7,'#ff6a00'],[.85,'#ffe000'],[1,'#ffffc0']];
const hot=h=>{for(let i=1;i<hotPts.length;i++){if(h<=hotPts[i][0]){return lerpHex(hotPts[i-1][1],hotPts[i][1],(h-hotPts[i-1][0])/(hotPts[i][0]-hotPts[i-1][0]));}}return [255,255,192];};

function rich(S,subScale){const k=subScale||.74;return {i:{fontFamily:F,fontStyle:'italic',fontSize:S,color:INK},n:{fontFamily:F,fontSize:S,color:INK},
  s:{fontFamily:F,fontStyle:'italic',fontSize:S*k,color:INK,padding:[S*.62,0,0,0]},b:{fontFamily:'DejaVu Serif, serif',fontSize:S*.8,color:INK},
  B:{fontFamily:F,fontStyle:'italic',fontWeight:'bold',fontSize:S,color:INK}};}
function label(text,x,y,S,align,k){opt.title.push({text,left:x,top:y,textAlign:align||'left',textVerticalAlign:'middle',padding:0,itemGap:0,textStyle:{fontFamily:F,fontSize:S,fontWeight:'normal',color:INK,rich:rich(S,k)}});}

function addTicks(ax,xr,yr,xs,ys,L){
  const data=[];(xs||[]).forEach(v=>{data.push([v,0]);data.push([v,1]);});(ys||[]).forEach(v=>{data.push([v,2]);data.push([v,3]);});
  opt.series.push(Object.assign({type:'custom',silent:true,clip:false,coordinateSystem:'cartesian2d',z:5,data,encode:{},renderItem:(p,api)=>{
    const v=api.value(0),side=api.value(1);const A=side<2?(side===0?api.coord([v,yr[0]]):api.coord([v,yr[1]])):(side===2?api.coord([xr[0],v]):api.coord([xr[1],v]));
    const dx=side===2?L:side===3?-L:0,dy=side===0?-L:side===1?L:0;
    return {type:'line',shape:{x1:A[0],y1:A[1],x2:A[0]+dx,y2:A[1]+dy},style:{stroke:AXIS,lineWidth:4}};}},ax));
}
function chart(r,xr,yr,o){ // r=[left,top,right,bottom]
  o=o||{};const g=opt.grid.length;
  opt.grid.push({left:r[0],top:r[1],width:r[2]-r[0],height:r[3]-r[1],containLabel:false});
  const line={show:true,onZero:false,lineStyle:{color:AXIS,width:o.axisW||4}};
  const S=o.tickSize||84;
  opt.xAxis.push({gridIndex:g,type:'value',position:'bottom',min:xr[0],max:xr[1],splitLine:{show:false},axisLine:line,axisTick:{show:false},
    axisLabel:{show:!!o.xLabels,customValues:o.xLabelValues||o.xTicks,margin:o.xMargin||30,fontFamily:F,fontSize:S,color:INK,hideOverlap:false,formatter:o.xFmt,rich:{z:{fontFamily:F,fontSize:S,color:INK,padding:[0,o.zeroPad||0,0,0]}}},
    name:o.xName||'',nameLocation:'middle',nameGap:o.xNameGap||120,nameTextStyle:{fontFamily:F,fontStyle:'italic',fontSize:o.nameSize||100,color:INK}});
  opt.xAxis.push({gridIndex:g,type:'value',position:'top',min:xr[0],max:xr[1],splitLine:{show:false},axisLine:line,axisTick:{show:false},axisLabel:{show:false}});
  opt.yAxis.push({gridIndex:g,type:'value',position:'left',min:yr[0],max:yr[1],splitLine:{show:false},axisLine:line,axisTick:{show:false},
    axisLabel:{show:true,customValues:o.yLabels||o.yTicks,margin:o.yMargin||34,fontFamily:F,fontSize:S,color:INK,showMinLabel:true,showMaxLabel:true,hideOverlap:false,formatter:o.yFmt},
    name:o.yName||'',nameLocation:'middle',nameRotate:90,nameGap:o.yNameGap||190,nameTextStyle:{fontFamily:F,fontSize:o.nameSize||100,color:INK,rich:rich(o.nameSize||100)}});
  opt.yAxis.push({gridIndex:g,type:'value',position:'right',min:yr[0],max:yr[1],splitLine:{show:false},axisLine:line,axisTick:{show:false},axisLabel:{show:false}});
  const ax={xAxisIndex:opt.xAxis.length-2,yAxisIndex:opt.yAxis.length-2};
  addTicks(ax,xr,yr,o.tickXs,o.yTicks,o.tickLen||14);
  return ax;
}
const curve=(ax,name,data,color,w,extra)=>opt.series.push(Object.assign({type:'line',name,data,xAxisIndex:ax.xAxisIndex,yAxisIndex:ax.yAxisIndex,showSymbol:false,symbol:'none',clip:true,silent:true,lineStyle:{color,width:w}},extra||{}));
const dashStyle=(color,w,type)=>({lineStyle:{color,width:w,type,cap:'butt'},itemStyle:{color}});
const soft={smooth:.15};

/* flow panels */
const ringF=[1,.94,.88,.82,.76,.7,.64,.58,.52,.45,.34,.22,.1];
const ringRed=['#a0f2a0','#b4f07c','#c9ee55','#dcec40','#f2e22e','#f7c02a','#f79a24','#f26a22','#ee3022','#d81c2c','#b01830','#8b1a34','#7a2238'];
const ringBlue=['#a0f2b0','#8cf0c8','#7ceedd','#6ee6ee','#62d0f4','#52b0f4','#4490f2','#3470f0','#2850ee','#2038e0','#1c28d0','#1a20c0','#1818b0'];
const ringMint=['#a8f2b0','#98f0c0','#8ce8d8','#80e0ec'], ringLime=['#b8f080','#c8ee60','#dcec48','#ece840'];
function renderVortex(p,api){
  const v=[0,1,2,3,4,5,6].map(i=>api.value(i));const c=api.coord([v[0],v[1]]);const sz=api.size([v[2]*.86,v[3]*1.05]);
  const tilt=v[4]*Math.PI/180,kind=v[5],dense=v[6];
  const pal=kind===1?ringRed:kind===-1?ringBlue:kind===0?ringMint:ringLime;
  const fs=(kind===1||kind===-1)?ringF:[1,.8,.6,.4];const taper=kind===1?-.3:kind===-1?.3:0;
  const kids=[];
  fs.forEach((f,k)=>{
    const pts=[];
    for(let a=0;a<36;a++){const th=a/36*2*Math.PI;const sy=Math.sin(th);const dx=sz[0]*f*Math.cos(th)*(1+taper*sy),dy=sz[1]*f*sy;
      pts.push([c[0]+dx*Math.cos(tilt)-dy*Math.sin(tilt),c[1]+dx*Math.sin(tilt)+dy*Math.cos(tilt)]);}
    const inner=dense&&k===8;
    kids.push({type:'polygon',shape:{points:pts},style:{fill:inner?(kind===1?'#741020':'#1212a8'):'none',stroke:pal[k],lineWidth:k<8?2.2:3}});
  });
  return {type:'group',children:kids};
}
const rgba=(a,o)=>'rgba('+a.join(',')+','+o+')';
function heatCircle(api,grow,stops){
  const v=[0,1,2,3,4].map(i=>api.value(i));const c=api.coord([v[0],v[1]]);const sz=api.size([v[2]*grow,v[3]*grow]);
  return {type:'circle',shape:{cx:0,cy:0,r:100},x:c[0],y:c[1],scaleX:sz[0]/100,scaleY:sz[1]/100,rotation:-v[4]*Math.PI/180,style:{fill:new echarts.graphic.RadialGradient(.5,.5,.5,stops)}};
}
function renderHalo(p,api){const h=api.value(5);const a=hot(h*.66);return heatCircle(api,1.3,[{offset:0,color:rgba(a,.85)},{offset:.5,color:rgba(a,.68)},{offset:.8,color:rgba(a,.25)},{offset:1,color:rgba(a,0)}]);}
function renderHeat(p,api){const h=api.value(5);return heatCircle(api,1.12,[{offset:0,color:rgba(hot(h),1)},{offset:.4,color:rgba(hot(h*.97),.88)},{offset:.7,color:rgba(hot(h*.88),.42)},{offset:1,color:rgba(hot(h*.78),0)}]);}
function renderArrow(p,api){
  const x=api.value(0),y0=api.value(1),y1=api.value(2);const a=api.coord([x,y0]),b=api.coord([x,y1]);const dir=b[1]<a[1]?-1:1;
  const neck=[b[0],b[1]-dir*48];
  return {type:'group',children:[{type:'line',shape:{x1:a[0],y1:a[1],x2:neck[0],y2:neck[1]},style:{stroke:'#e8440f',lineWidth:10}},
    {type:'polygon',shape:{points:[[b[0],b[1]],[neck[0]-13,neck[1]],[neck[0]+13,neck[1]]]},style:{fill:'#e8440f'}}]};
}
function flowPanel(row,col,vort,heat,streaks,plate,arrow){
  const G=rowGeom[row],[L,R]=G.cols[col];
  const add=(top,bot,extra)=>{const g=opt.grid.length;opt.grid.push(Object.assign({left:L,top,width:R-L,height:bot-top},extra));
    opt.xAxis.push({gridIndex:g,type:'value',min:0,max:1,show:false});opt.yAxis.push({gridIndex:g,type:'value',min:0,max:1,inverse:true,show:false});
    return {xAxisIndex:opt.xAxis.length-1,yAxisIndex:opt.yAxis.length-1};};
  const a=add(G.top,G.mid,{show:true,borderColor:'#4a5054',borderWidth:3,backgroundColor:'#fff'});
  (streaks||[]).forEach(s=>curve(a,'',s[1],s[0],3,{smooth:.5}));
  opt.series.push(Object.assign({type:'custom',silent:true,clip:true,coordinateSystem:'cartesian2d',renderItem:renderVortex,data:vort,encode:{x:0,y:1}},a));
  curve(a,'',[[plate[0],plate[1]],[plate[2],plate[1]]],'#0a0a0a',9);
  if(arrow)opt.series.push(Object.assign({type:'custom',silent:true,clip:false,coordinateSystem:'cartesian2d',renderItem:renderArrow,data:[arrow],encode:{x:0,y:[1,2]}},a));
  const h=add(G.mid,G.bot,{show:true,borderWidth:0,backgroundColor:'#0a0a0a'});
  opt.series.push(Object.assign({type:'custom',silent:true,clip:true,coordinateSystem:'cartesian2d',renderItem:renderHalo,data:heat,encode:{x:0,y:1}},h));
  opt.series.push(Object.assign({type:'custom',silent:true,clip:true,coordinateSystem:'cartesian2d',renderItem:renderHeat,data:heat,encode:{x:0,y:1}},h));
  curve(h,'',[[.336,.5],[.667,.5]],'#0a0a0a',8);
}
const vorts=[vortA1,vortA2,vortA3,vortB1,vortB2,vortB3,vortD1,vortD2,vortD3],heats=[heatA1,heatA2,heatA3,heatB1,heatB2,heatB3,heatD1,heatD2,heatD3],streakSets=[null,null,null,null,null,null,streaksD1,streaksD2,streaksD3];
vorts.forEach((v,i)=>flowPanel(Math.floor(i/3),i%3,v,heats[i],streakSets[i],plateContour[i],arrows[i]));

/* (c) */
const DASH=[56,38];
const cTop=chart([3008,145,3726,575],[0,1],[2.9,20],{tickXs:[.5],yTicks:nuSideTicks,yName:'{b|⟨}{i|Nu}{s|top}{b|⟩}',yNameGap:169});
curve(cTop,'Steady',zip(cTopSteadyX,cTopSteadyY),'#161616',9,Object.assign(dashStyle('#161616',9,DASH),soft));
curve(cTop,'Tc = 1/2',zip(cTopRedX,cTopRedY),'#f02a2a',6,Object.assign({itemStyle:{color:'#f02a2a'}},soft));
curve(cTop,'Tc = 1',zip(cTopBlueX,cTopBlueY),'#3d58ee',6,Object.assign({itemStyle:{color:'#3d58ee'}},soft));
const cBot=chart([3008,608,3726,1040],[0,1],[3,20],{tickXs:[.5],yTicks:nuSideTicks,yName:'{b|⟨}{i|Nu}{s|bot}{b|⟩}',yNameGap:169});
curve(cBot,'Steady',zip(cBotSteadyX,cBotSteadyY),'#161616',9,Object.assign(dashStyle('#161616',9,DASH),soft));
curve(cBot,'Tc = 1/2',zip(cBotRedX,cBotRedY),'#f02a2a',6,soft);
curve(cBot,'Tc = 1',zip(cBotBlueX,cBotBlueY),'#3d58ee',6,soft);
const cPl=chart([3008,1076,3726,1509],[0,1],[.0794,.2308],{tickXs:[.5],xTicks:xTicks,xLabels:true,yTicks:plateTicksC,xName:'x',xNameGap:128,yName:'{b|⟨}{i|T}{s|plate}{b|⟩}',yNameGap:169,xFmt:v=>v===1?'1.0':String(v),yFmt:v=>v.toFixed(1)});
curve(cPl,'Steady',zip(cPlateSteadyX,cPlateSteadyY),'#161616',9,Object.assign(dashStyle('#161616',9,DASH),soft));
curve(cPl,'Tc = 1/2',zip(cPlateRedX,cPlateRedY),'#f02a2a',6,soft);
curve(cPl,'Tc = 1',zip(cPlateBlueX,cPlateBlueY),'#3d58ee',6,soft);
const legendNames={'Tc = 1/2':'{i|T}{s|c}{n| = 1/2}','Tc = 1':'{i|T}{s|c}{n| = 1}','Steady':'{n|Steady}'};
opt.legend.push({left:3108,top:186,orient:'vertical',data:[{name:'Tc = 1/2',lineStyle:{width:6}},{name:'Tc = 1',lineStyle:{width:6}},{name:'Steady',lineStyle:{width:9,type:[74,30]}}],itemWidth:178,itemHeight:20,itemGap:5,padding:0,selectedMode:false,itemStyle:{opacity:0},formatter:n=>legendNames[n],textStyle:{padding:[0,0,0,16],rich:rich(84)}});

/* (d) time series */
const nuAx=chart([417,2038,2575,2322],[0,100],[17.4,24.7],{tickXs:timeTicks.slice(1,5),yTicks:nuTicks,tickLen:28,yMargin:32,axisW:4});
curve(nuAx,'Nu',nuPoints,'#0e0e0e',7.5);
opt.series.push(Object.assign({type:'scatter',silent:true,symbolSize:27,z:6,data:nuMarkers.map(m=>({value:[m[0],m[1]],itemStyle:{color:m[2]}}))},nuAx));
const tAx=chart([417,2324,2575,2612],[0,100],[.1,.1664],{tickXs:timeTicks.slice(1,5),xLabelValues:timeTicks,yTicks:tempTicks,yLabels:[.1,.12,.14],tickLen:28,xLabels:true,yMargin:32,xMargin:30,xName:'t',xNameGap:118,xFmt:v=>String(v),yFmt:v=>v.toFixed(2)});
curve(tAx,'Tmax',tMaxPoints,'#1a1a1a',5,{itemStyle:{color:'#1a1a1a'},smooth:.2});
curve(tAx,'Tavg',tAvgPoints,'#7fe81c',7,{itemStyle:{color:'#7fe81c'},smooth:.2});
opt.series.push(Object.assign({type:'scatter',silent:true,symbolSize:27,z:6,data:tempMarkers.map(m=>({value:[m[0],m[1]],itemStyle:{color:m[2]}}))},tAx));
const tLegend={'Tmax':'{i|T}{s|max}','Tavg':'{i|T}{s|avg}'};
opt.legend.push({left:493,top:2354,orient:'horizontal',data:[{name:'Tmax',lineStyle:{width:5}},{name:'Tavg',lineStyle:{width:6}}],itemWidth:177,itemHeight:20,itemGap:80,padding:0,selectedMode:false,itemStyle:{opacity:0},formatter:n=>tLegend[n],textStyle:{padding:[0,0,0,14],rich:rich(92,.66)}});

/* (d) right column */
const DASH2=[52,34];
function family(ax,rows){rows.forEach(r=>curve(ax,'',zip(cycleXs,r.slice(1)),cycleColor(r[0]),5,{lineStyle:{color:cycleColor(r[0]),width:7,opacity:.38},smooth:.3}));}
function dashDots(ax,red,blue,green){[[green,'#22a010'],[blue,'#2a4cf0'],[red,'#e8401a']].forEach(d=>curve(ax,'',d[0],d[1],7,{smooth:.2,lineStyle:{color:d[1],width:7,type:[34,12,8,12]}}));}
const rTop=chart([3008,1972,3473,2403],[0,1],[.56,17.8],{tickXs:[.5],yTicks:nuSideTicks,yName:'{b|⟨}{i|Nu}{s|top}{b|⟩}',yNameGap:169});
family(rTop,topCycles);curve(rTop,'',zip(dSteadyX,dTopSteadyY),'#161616',6,Object.assign(dashStyle('#161616',6.5,DASH2),soft));dashDots(rTop,zip(dTopRedX,dTopRedY),zip(dTopBlueX,dTopBlueY),zip(dTopGreenX,dTopGreenY));
const rBot=chart([3008,2437,3473,2868],[0,1],[.6,17.7],{tickXs:[.5],yTicks:nuSideTicks,yName:'{b|⟨}{i|Nu}{s|bot}{b|⟩}',yNameGap:169});
family(rBot,botCycles);curve(rBot,'',zip(dSteadyX,dBotSteadyY),'#161616',6,Object.assign(dashStyle('#161616',6.5,DASH2),soft));dashDots(rBot,zip(dBotRedX,dBotRedY),zip(dBotBlueX,dBotBlueY),zip(dBotGreenX,dBotGreenY));
const rPl=chart([3008,2903,3485,3336],[0,1],[.0009,.2033],{tickXs:[.5],xTicks:xTicks,xLabels:true,yTicks:[.1,.2],yLabels:[.1,.2],xName:'x',xNameGap:112,yName:'{b|⟨}{i|T}{s|plate}{b|⟩}',yNameGap:169,xMargin:46,zeroPad:100,xFmt:v=>v===0?'{z|0}':v===1?'1.0':String(v),yFmt:v=>v.toFixed(1)});
family(rPl,plateCycles);curve(rPl,'',zip(dPlateSteadyX,dPlateSteadyY),'#161616',6,Object.assign(dashStyle('#161616',6.5,DASH2),soft));dashDots(rPl,zip(dPlateRedX,dPlateRedY),zip(dPlateBlueX,dPlateBlueY),zip(dPlateGreenX,dPlateGreenY));

opt.visualMap={type:'continuous',min:0,max:106,left:3530,top:2903,itemWidth:49,itemHeight:433,calculable:false,realtime:false,seriesIndex:[],text:['',''],showLabel:false,inRange:{color:cycleColors},textStyle:{fontSize:1,color:'#fff'},padding:0};
label('Cycle',3500,2836,84);
label(String(cycleTicks[1]),3613,2933,84);
label(String(cycleTicks[0]),3608,3157,84);

/* text */
label('({i|a})',5,56,98);label('({i|b})',5,1000,98);label('({i|c})',2723,56,96);label('({i|d})',5,1942,98);
label('{i|Re}{s|f}{n| = 100, }{i|A}{n| = 0.2}',1128,56,100.5);
label('{i|Re}{s|f}{n| = 200, }{i|A}{n| = 0.1}',1200,1000,100.5);
label('{i|Re}{s|f}{n| = 200, }{i|A}{n| = 0.15}',1174,1942,100.5);
[['38.25',375,210],['38.75',1174,210],['39.25',1955,210],['38.25',386,1166],['38.75',1183,1166],['39.25',1967,1166],['25.2',542,2889],['55.5',1359,2889],['83.3',2157,2889]].forEach(t=>label('{i|t}{n| = '+t[0]+'}',t[1],t[2],82));
label('{i|T}{s|max}',186,577,92,'left',.66);label('{i|T}{s|min}',193,872,92,'left',.66);
Object.assign(opt.yAxis[nuAx.yAxisIndex],{name:'{B|Nu}',nameGap:162,nameTextStyle:{fontFamily:F,fontSize:96,color:INK,rich:rich(96)}});
opt.graphic.elements.push({type:'rect',shape:{x:144,y:2094,width:5,height:103},style:{fill:INK},silent:true});
opt.graphic.elements.push({type:'rect',shape:{x:242,y:647,width:35,height:176},style:{stroke:'#444',lineWidth:3,fill:new echarts.graphic.LinearGradient(0,0,0,1,[{offset:0,color:'#ffffee'},{offset:.2,color:'#fff21a'},{offset:.42,color:'#ff8a00'},{offset:.62,color:'#f01800'},{offset:.85,color:'#3a0808'},{offset:1,color:'#0a0a0a'}])},silent:true});
opt.graphic.elements.push({type:'line',shape:{x1:3565,y1:3133,x2:3579,y2:3133},style:{stroke:'#333',lineWidth:3},silent:true,z:50});

const ch=echarts.init(document.getElementById('c'),null,{renderer:'canvas',width:3779,height:3550});
ch.setOption(opt);
</script></body></html>
